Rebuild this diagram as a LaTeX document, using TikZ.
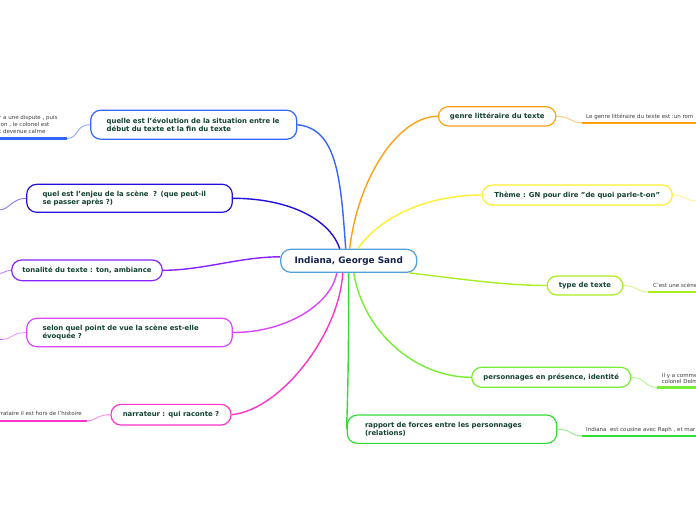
\documentclass[tikz,border=0pt]{standalone}
\usepackage{fontspec}
\setmainfont{DejaVu Sans}
\definecolor{txt}{RGB}{18,64,52}
\definecolor{ctxt}{RGB}{20,36,78}
\definecolor{leaft}{RGB}{60,60,60}
\definecolor{cenc}{RGB}{80,160,220}
\definecolor{evolc}{RGB}{51,102,255}
\definecolor{enjc}{RGB}{34,17,221}
\definecolor{tonc}{RGB}{136,34,255}
\definecolor{selc}{RGB}{221,68,255}
\definecolor{narc}{RGB}{255,51,204}
\definecolor{genc}{RGB}{255,160,20}
\definecolor{thec}{RGB}{255,238,51}
\definecolor{typc}{RGB}{170,238,34}
\definecolor{perc}{RGB}{119,238,51}
\definecolor{rapc}{RGB}{51,221,51}
\tikzset{
  topic/.style={draw=#1, rounded corners=10pt, line width=1.2pt, fill=white,
    font=\fontsize{6.9}{8.6}\selectfont\bfseries, text=txt, inner sep=0pt},
  multi/.style={text width=174pt, align=left},
  central/.style={draw=cenc, rounded corners=10pt, line width=1.2pt, fill=white,
    font=\fontsize{8.9}{10}\selectfont\bfseries, text=ctxt, inner sep=0pt,
    minimum width=136pt, minimum height=23pt},
  con/.style={draw=#1, line width=1.4pt},
  leafcon/.style={draw=#1!55, line width=0.9pt},
  uline/.style={draw=#1, line width=2.2pt},
  leaf/.style={font=\fontsize{5.5}{6.9}\selectfont, text=leaft, inner sep=0pt},
}
\begin{document}
\begin{tikzpicture}[x=1pt,y=-1pt]
\useasboundingbox (0,0) rectangle (696,520);
\clip (0,0) rectangle (696,520);

% central node
\node[central] (c) at (348.7,260.8) {Indiana, George Sand};

% left topics
\node[topic=evolc, multi, minimum width=206pt, minimum height=29pt] (evol) at (193.7,124.7)
  {quelle est l'évolution de la situation entre le\\début du texte et la fin du texte};
\node[topic=enjc, multi, minimum width=205.6pt, minimum height=28pt] (enjeu) at (129.5,198.3)
  {quel est l'enjeu de la scène\ \ ? (que peut-il\\se passer après ?)};
\node[topic=tonc, minimum width=150.6pt, minimum height=20.7pt] (tonal) at (87,270.3)
  {tonalité du texte : ton, ambiance};
\node[topic=selc, multi, minimum width=205.6pt, minimum height=28.4pt] (selon) at (129.5,332.5)
  {selon quel point de vue la scène est-elle\\évoquée ?};
\node[topic=narc, minimum width=120pt, minimum height=20.7pt] (narr) at (171,414.7)
  {narrateur : qui raconte ?};

% right topics
\node[topic=genc, minimum width=117.7pt, minimum height=19.3pt] (genre) at (497.2,116.3)
  {genre littéraire du texte};
\node[topic=thec, minimum width=190pt, minimum height=20pt] (theme) at (577.3,195)
  {Thème : GN pour dire "de quoi parle-t-on"};
\node[topic=typc, minimum width=76pt, minimum height=19pt] (type) at (585,285.5)
  {type de texte};
\node[topic=perc, minimum width=159pt, minimum height=20pt] (pers) at (551.2,377.3)
  {personnages en présence, identité};
\node[topic=rapc, multi, minimum width=209.4pt, minimum height=28.3pt] (rapp) at (452,429.2)
  {rapport de forces entre les personnages\\(relations)};

% connectors from the centre
\draw[con=evolc] (evol.east) .. controls +(40,4) and +(-5,-70) .. ([xshift=-3pt]c.north);
\draw[con=enjc] (enjeu.east) .. controls +(55,0) and +(-10,-30) .. ([xshift=-9pt]c.north);
\draw[con=tonc] (tonal.east) .. controls +(40,0) and +(-40,0) .. ([yshift=4pt]c.west);
\draw[con=selc] (selon.east) .. controls +(55,0) and +(-5,30) .. ([xshift=-12pt]c.south);
\draw[con=narc] (narr.east) .. controls +(50,-5) and +(-3,60) .. ([xshift=-6pt]c.south);
\draw[con=genc] ([xshift=1pt]c.north) .. controls +(8,-70) and +(-40,0) .. (genre.west);
\draw[con=thec] ([xshift=9pt]c.north) .. controls +(25,-35) and +(-50,0) .. (theme.west);
\draw[con=typc] ([xshift=-8pt]c.south east) .. controls +(50,6) and +(-40,0) .. (type.west);
\draw[con=perc] ([xshift=5pt]c.south) .. controls +(10,60) and +(-55,0) .. (pers.west);
\draw[con=rapc] (c.south) .. controls +(0,120) and +(0,-15) .. (rapp.west);

% leaves, left
\coordinate (l1) at (67,138.5);
\coordinate (l1e) at (-2,138.5);
\draw[leafcon=evolc] (evol.west) .. controls +(-15,0) and +(12,0) .. (l1);
\draw[uline=evolc] (l1) -- (l1e);
\node[leaf, anchor=west, align=left] (t1) at (-1,124.2)
  {r a une dispute , puis\\ion , le colonel est\\t devenue calme};

\coordinate (l2) at (-1,210);
\draw[leafcon=enjc] (enjeu.west) .. controls +(-14,0) and +(10,0) .. (l2);

\coordinate (l3) at (-1,273.5);
\draw[leafcon=tonc] (tonal.west) .. controls +(-6,0) and +(5,0) .. (l3);

\coordinate (l4) at (2,339.5);
\coordinate (l4e) at (-2,339.5);
\draw[leafcon=selc] (selon.west) .. controls +(-14,0) and +(10,0) .. (l4);
\draw[selc, line width=1.4pt] (l4) -- (l4e);

\coordinate (l5) at (87,420.7);
\coordinate (l5e) at (-2,420.7);
\draw[leafcon=narc] (narr.west) .. controls +(-14,0) and +(10,0) .. (l5);
\draw[uline=narc] (l5) -- (l5e);
\node[leaf, anchor=east] (t5) at (82,413.2) {rrataire il est hors de l'histoire};

% leaves, right
\coordinate (r1) at (582,122.7);
\coordinate (r1e) at (698,122.7);
\draw[leafcon=genc] (genre.east) .. controls +(14,0) and +(-12,0) .. (r1);
\draw[uline=genc] (r1) -- (r1e);
\node[leaf, anchor=west] (g1) at (586,116.8) {Le genre littéraire du texte est :un rom};

\coordinate (r2) at (697,201);
\draw[leafcon=thec] (theme.east) .. controls +(12,0) and +(-12,0) .. (r2);

\coordinate (r3) at (648,292);
\coordinate (r3e) at (698,292);
\draw[leafcon=typc] (type.east) .. controls +(14,0) and +(-12,0) .. (r3);
\draw[uline=typc] (r3) -- (r3e);
\node[leaf, anchor=west] (g3) at (653,285.8) {C'est une scène};

\coordinate (r4) at (657,387.5);
\coordinate (r4e) at (698,387.5);
\draw[leafcon=perc] (pers.east) .. controls +(14,0) and +(-12,0) .. (r4);
\draw[uline=perc] (r4) -- (r4e);
\node[leaf, anchor=west, align=left, font=\fontsize{5.5}{6.2}\selectfont] (g4) at (661.7,378.2) {Il y a comme\\colonel Delm};

\coordinate (r5) at (582,435.8);
\coordinate (r5e) at (698,435.8);
\draw[leafcon=rapc] (rapp.east) .. controls +(14,0) and +(-12,0) .. (r5);
\draw[uline=rapc] (r5) -- (r5e);
\node[leaf, anchor=west] (g5) at (586,430) {Indiana\ \ est cousine avec Raph , et mar};
\end{tikzpicture}
\end{document}
